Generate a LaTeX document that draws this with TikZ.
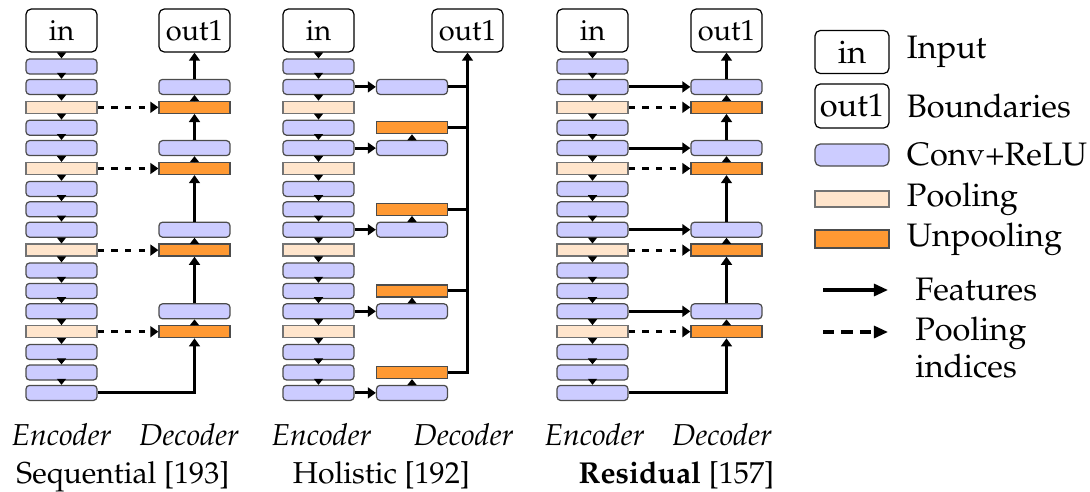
\documentclass[tikz,border=0pt]{standalone}
\usepackage[T1]{fontenc}
\usepackage{mathpazo}
\usetikzlibrary{arrows.meta,positioning}

\begin{document}
\begin{tikzpicture}[
      x=0.02cm,y=-0.02cm,
      blk/.style={draw=black!70,line width=0.7pt,minimum width=1.42cm,inner sep=0pt},
      convbox/.style={blk,fill=blue!20,rounded corners=2pt,minimum height=0.3cm},
      poolbox/.style={blk,fill=orange!20,draw=black!55,minimum height=0.24cm},
      unpoolbox/.style={blk,fill=orange!80,minimum height=0.24cm},
      iobox/.style={blk,draw=black,fill=white,rounded corners=3pt,minimum height=0.86cm,font=\fontsize{16.5}{19}\selectfont},
      tip/.style={line width=0.7pt,-{Triangle[length=3.4pt,width=5.2pt]}},
      feat/.style={line width=1.7pt,-{Triangle[length=4.6pt,width=6.2pt]}},
      idx/.style={feat,dash pattern=on 3.6pt off 4.2pt},
      legarrow/.style={line width=1.8pt,-{Triangle[length=8pt,width=6.8pt]}},
      lbl/.style={anchor=base,inner sep=0pt,font=\fontsize{17.2}{19}\selectfont},
      legtext/.style={anchor=west,inner sep=0pt,font=\fontsize{18.5}{21}\selectfont}
    ]
    \useasboundingbox (0,0) rectangle (1090,491);
    \foreach \p/\ex in {s/61.5,h/318.5,r/592.5} {
      \node[iobox] (\p-in) at (\ex,30.5) {in};
      \foreach \t [count=\i] in {convbox,convbox,poolbox,convbox,convbox,poolbox,convbox,convbox,convbox,poolbox,convbox,convbox,convbox,poolbox,convbox,convbox,convbox}
        \node[\t] (\p e\i) at (\ex,{66.5+20.4*(\i-1)}) {};
      \draw[tip] (\p-in) -- (\p e1);
      \foreach \i [evaluate=\i as \j using int(\i+1)] in {1,...,16}
        \draw[tip] (\p e\i) -- (\p e\j);
    }
    % sequential and residual decoders
    \foreach \p/\dx in {s/194.5,r/726.5} {
      \coordinate (\p dx) at (\dx,0);
      \node[iobox] (\p-out) at (\p-in -| \p dx) {out1};
      \foreach \i in {2,5,9,13}
        \node[convbox] (\p d\i) at (\p e\i -| \p dx) {};
      \foreach \i in {3,6,10,14} {
        \node[unpoolbox] (\p d\i) at (\p e\i -| \p dx) {};
        \draw[idx] (\p e\i) -- (\p d\i);
      }
      \foreach \a/\b in {3/2,6/5,10/9,14/13}
        \draw[tip] (\p d\a) -- (\p d\b);
      \foreach \a/\b in {5/3,9/6,13/10}
        \draw[feat] (\p d\a) -- (\p d\b);
      \draw[feat] (\p d2) -- (\p-out);
      \draw[feat] (\p e17) -| (\p d14);
    }
    \foreach \i in {2,5,9,13}
      \draw[feat] (re\i) -- (rd\i);
    % holistic decoder
    \coordinate (hdx) at (412,0);
    \coordinate (hbus) at (467.5,0);
    \node[iobox] (h-out) at (h-in -| hbus) {out1};
    \foreach \i in {2,5,9,13,17} {
      \node[convbox] (hd\i) at (he\i -| hdx) {};
      \draw[feat] (he\i) -- (hd\i);
    }
    \foreach \i in {4,8,12,16}
      \node[unpoolbox] (hd\i) at (he\i -| hdx) {};
    \foreach \a/\b in {5/4,9/8,13/12,17/16}
      \draw[tip] (hd\a) -- (hd\b);
    \foreach \i in {2,4,8,12}
      \draw[line width=1.7pt] (hd\i.east) -- (hd\i.east -| hbus);
    \draw[feat] (hd16) -| (h-out);
    % captions
    \foreach \p/\ex/\dx in {s/61.5/189,h/321.5/463.5,r/594.5/722} {
      \node[lbl] (\p-enc) at (\ex,445) {\itshape Encoder};
      \node[lbl] (\p-dec) at (\dx,445) {\itshape Decoder};
    }
    \node[lbl] (s-name) at (123,483) {Sequential [193]};
    \node[lbl] (h-name) at (381.5,483) {Holistic [192]};
    \node[lbl] (r-name) at (676.5,483) {\textbf{Residual} [157]};
    % legend
    \node[iobox,minimum width=1.48cm,font=\fontsize{18.5}{20}\selectfont] (l-in) at (852,52) {in};
    \node[iobox,minimum width=1.48cm,minimum height=0.88cm,font=\fontsize{18.5}{20}\selectfont] (l-out) at (852,106) {out1};
    \node[convbox,minimum width=1.48cm,minimum height=0.44cm,rounded corners=3pt] (l-conv) at (852,155) {};
    \node[poolbox,minimum width=1.48cm,minimum height=0.32cm] (l-pool) at (852,199) {};
    \node[unpoolbox,minimum width=1.48cm,minimum height=0.36cm] (l-unpool) at (852,239) {};
    \node[legtext,right=0.34cm of l-in] (t-in) {Input};
    \node[legtext,right=0.34cm of l-out] (t-out) {Boundaries};
    \node[legtext,right=0.34cm of l-conv] (t-conv) {Conv+ReLU};
    \node[legtext,right=0.34cm of l-pool] (t-pool) {Pooling};
    \node[legtext,right=0.34cm of l-unpool] (t-unpool) {Unpooling};
    \coordinate (f-a) at (823,290);
    \coordinate (f-b) at (888,290);
    \draw[legarrow] (f-a) -- (f-b);
    \node[legtext,right=0.54cm of f-b] (t-feat) {Features};
    \coordinate (i-a) at (823,332);
    \coordinate (i-b) at (888,332);
    \draw[legarrow,dash pattern=on 6.5pt off 4pt] (i-a) -- (i-b);
    \node[legtext,align=left,anchor=north west] (t-idx) at (915,317) {Pooling\\indices};
\end{tikzpicture}
\end{document}
